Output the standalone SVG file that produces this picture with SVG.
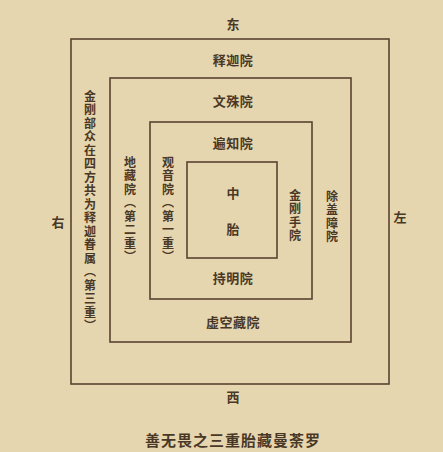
<svg xmlns="http://www.w3.org/2000/svg" width="443" height="452" viewBox="0 0 443 452">
<style>
.bg{fill:#e6d6b0}
.box{fill:none;stroke:#5b4330;stroke-width:1.6}
.t{font-family:"Noto Sans CJK SC","Noto Sans",sans-serif;font-size:13px;fill:#4a3826;text-anchor:middle;font-weight:bold}
.h{letter-spacing:0.5px}
.v{font-size:12px;writing-mode:vertical-rl;dominant-baseline:central;text-anchor:start;letter-spacing:1.5px}
.cap{font-size:15px;letter-spacing:1px}
</style>
<rect class="bg" x="0" y="0" width="443" height="452"/>
<g id="outer">
<rect class="box" x="71" y="39" width="318" height="345"/>
<text class="t h" x="233" y="65">释迦院</text>
<text class="t v" x="90" y="90">金刚部众在四方共为释迦眷属（第三重）</text>
</g>
<g id="second">
<rect class="box" x="110" y="78" width="241" height="264"/>
<text class="t h" x="233" y="106">文殊院</text>
<text class="t v" x="130" y="156">地藏院（第二重）</text>
<text class="t v" x="332" y="190">除盖障院</text>
<text class="t h" x="233" y="327">虚空藏院</text>
</g>
<g id="third">
<rect class="box" x="150" y="122" width="162" height="177"/>
<text class="t h" x="233" y="148">遍知院</text>
<text class="t v" x="168" y="156">观音院（第一重）</text>
<text class="t v" x="295" y="189">金刚手院</text>
<text class="t h" x="233" y="283">持明院</text>
</g>
<g id="center">
<rect class="box" x="187" y="162" width="90" height="96"/>
<text class="t" x="233" y="198">中</text>
<text class="t" x="233" y="234">胎</text>
</g>
<g id="directions">
<text class="t" x="233" y="29">东</text>
<text class="t" x="233" y="402">西</text>
<text class="t" x="58" y="227">右</text>
<text class="t" x="400" y="222">左</text>
</g>
<text class="t cap" x="233" y="446">善无畏之三重胎藏曼荼罗</text>
</svg>
